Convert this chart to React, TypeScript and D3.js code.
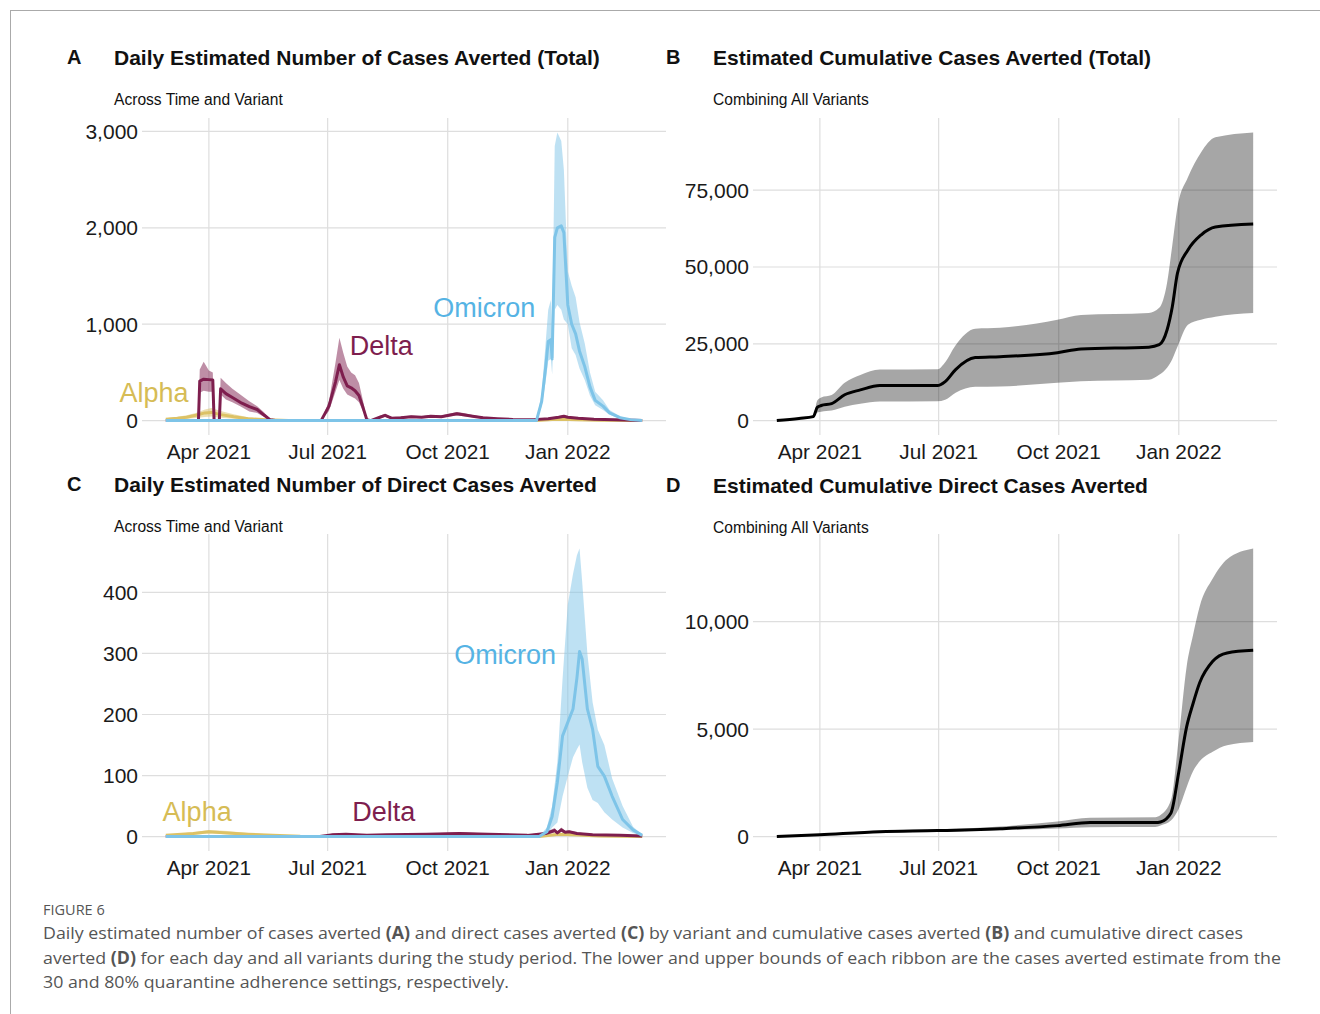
import * as d3 from "d3"

type Row = [string, number, number, number] // date, lower (30%), estimate, upper (80%)
type Label = [string, string, number] // text, date, value

const studyPeriod = ["2021-02-27", "2022-02-27"]
const xTicks = ["2021-04-01", "2021-07-01", "2021-10-01", "2022-01-01"]
const xTickLabels = ["Apr 2021", "Jul 2021", "Oct 2021", "Jan 2022"]

const yTicksA = [0, 1000, 2000, 3000]
const yTicksB = [0, 25000, 50000, 75000]
const yTicksC = [0, 100, 200, 300, 400]
const yTicksD = [0, 5000, 10000]

// Panel A: daily cases averted (total) by variant
const alphaTotal: Row[] = [
  ["2021-02-27", 8, 15, 25],
  ["2021-03-08", 12, 25, 40],
  ["2021-03-15", 18, 35, 55],
  ["2021-03-22", 28, 55, 80],
  ["2021-03-29", 38, 80, 115],
  ["2021-04-03", 42, 85, 130],
  ["2021-04-10", 30, 62, 100],
  ["2021-04-20", 18, 40, 65],
  ["2021-05-01", 8, 20, 35],
  ["2021-05-15", 3, 8, 15],
  ["2021-06-01", 0, 2, 5],
  ["2021-06-20", 0, 0, 0],
  ["2021-12-08", 0, 0, 0],
  ["2021-12-20", 5, 10, 18],
  ["2021-12-27", 8, 15, 25],
  ["2022-01-08", 5, 10, 16],
  ["2022-01-25", 1, 3, 6],
  ["2022-02-27", 0, 0, 0],
]

const deltaTotal: Row[] = [
  ["2021-02-27", 0, 0, 0],
  ["2021-03-24", 0, 0, 0],
  ["2021-03-25", 290, 410, 530],
  ["2021-03-28", 310, 430, 610],
  ["2021-04-01", 300, 425, 520],
  ["2021-04-04", 300, 420, 500],
  ["2021-04-05", 0, 0, 0],
  ["2021-04-09", 0, 0, 0],
  ["2021-04-10", 270, 330, 445],
  ["2021-04-14", 220, 280, 390],
  ["2021-04-19", 190, 240, 330],
  ["2021-04-25", 150, 190, 270],
  ["2021-05-02", 95, 145, 200],
  ["2021-05-08", 80, 115, 150],
  ["2021-05-13", 40, 60, 90],
  ["2021-05-18", 3, 8, 15],
  ["2021-05-22", 0, 0, 0],
  ["2021-06-26", 0, 0, 0],
  ["2021-07-02", 100, 150, 200],
  ["2021-07-07", 300, 400, 600],
  ["2021-07-10", 420, 580, 860],
  ["2021-07-13", 330, 450, 700],
  ["2021-07-16", 270, 360, 560],
  ["2021-07-19", 250, 340, 500],
  ["2021-07-22", 230, 310, 470],
  ["2021-07-25", 190, 260, 390],
  ["2021-07-28", 100, 140, 210],
  ["2021-07-31", 5, 10, 20],
  ["2021-08-03", 0, 0, 0],
  ["2021-08-10", 25, 35, 50],
  ["2021-08-14", 40, 55, 70],
  ["2021-08-19", 18, 25, 35],
  ["2021-08-26", 22, 30, 40],
  ["2021-09-03", 30, 40, 52],
  ["2021-09-11", 26, 35, 46],
  ["2021-09-18", 34, 45, 58],
  ["2021-09-26", 30, 40, 52],
  ["2021-10-02", 42, 55, 70],
  ["2021-10-08", 52, 70, 90],
  ["2021-10-13", 45, 60, 78],
  ["2021-10-20", 34, 45, 58],
  ["2021-10-28", 22, 30, 40],
  ["2021-11-08", 15, 20, 27],
  ["2021-11-20", 9, 12, 16],
  ["2021-12-06", 7, 10, 14],
  ["2021-12-17", 15, 20, 27],
  ["2021-12-25", 26, 35, 46],
  ["2021-12-29", 34, 45, 55],
  ["2022-01-01", 26, 35, 45],
  ["2022-01-09", 18, 25, 33],
  ["2022-01-21", 11, 15, 20],
  ["2022-02-06", 6, 8, 11],
  ["2022-02-27", 1, 2, 3],
]

const omicronTotal: Row[] = [
  ["2021-02-27", 0, 0, 0],
  ["2021-12-08", 0, 0, 0],
  ["2021-12-12", 150, 200, 280],
  ["2021-12-15", 400, 550, 800],
  ["2021-12-17", 620, 820, 1150],
  ["2021-12-19", 640, 840, 1250],
  ["2021-12-20", 480, 640, 900],
  ["2021-12-22", 1150, 1900, 2850],
  ["2021-12-24", 1200, 2000, 2990],
  ["2021-12-27", 1150, 2020, 2900],
  ["2021-12-29", 1050, 1950, 2600],
  ["2022-01-01", 1000, 1200, 1550],
  ["2022-01-04", 750, 1000, 1400],
  ["2022-01-07", 680, 900, 1280],
  ["2022-01-10", 540, 720, 1020],
  ["2022-01-14", 420, 560, 800],
  ["2022-01-18", 260, 350, 500],
  ["2022-01-22", 160, 210, 300],
  ["2022-01-28", 110, 150, 210],
  ["2022-02-02", 60, 80, 110],
  ["2022-02-10", 20, 30, 45],
  ["2022-02-18", 6, 10, 15],
  ["2022-02-27", 0, 0, 0],
]

// Panel C: daily direct cases averted by variant
const alphaDirect: Row[] = [
  ["2021-02-27", 1, 2, 3],
  ["2021-03-20", 3, 5, 7],
  ["2021-04-01", 5, 8, 11],
  ["2021-04-15", 4, 6, 9],
  ["2021-05-01", 2, 4, 6],
  ["2021-05-20", 1, 2, 3],
  ["2021-06-10", 0, 0.5, 1],
  ["2021-07-01", 0, 0, 0],
  ["2021-12-10", 0, 0, 0],
  ["2021-12-25", 2, 4, 6],
  ["2022-01-05", 2, 3, 5],
  ["2022-01-25", 0.5, 1, 2],
  ["2022-02-27", 0, 0, 0],
]

const deltaDirect: Row[] = [
  ["2021-02-27", 0, 0, 0],
  ["2021-06-25", 0, 0, 0],
  ["2021-07-05", 2, 3, 5],
  ["2021-07-15", 3, 4, 6],
  ["2021-07-31", 1, 2, 3],
  ["2021-08-15", 2, 3, 4],
  ["2021-09-15", 3, 4, 5],
  ["2021-10-10", 4, 5, 7],
  ["2021-11-01", 3, 4, 5],
  ["2021-12-01", 1, 2, 3],
  ["2021-12-15", 3, 5, 7],
  ["2021-12-22", 7, 10, 14],
  ["2021-12-24", 4, 6, 8],
  ["2021-12-27", 8, 11, 15],
  ["2021-12-30", 5, 7, 9],
  ["2022-01-02", 6, 8, 10],
  ["2022-01-08", 4, 5, 7],
  ["2022-01-20", 2, 3, 4],
  ["2022-02-10", 1, 2, 3],
  ["2022-02-27", 0.5, 1, 1.5],
]

const omicronDirect: Row[] = [
  ["2021-02-27", 0, 0, 0],
  ["2021-12-10", 0, 0, 0],
  ["2021-12-16", 3, 8, 15],
  ["2021-12-20", 15, 33, 50],
  ["2021-12-24", 23, 89, 122],
  ["2021-12-28", 66, 165, 258],
  ["2022-01-01", 99, 187, 380],
  ["2022-01-05", 130, 209, 430],
  ["2022-01-08", 143, 260, 461],
  ["2022-01-10", 151, 303, 472],
  ["2022-01-12", 122, 291, 418],
  ["2022-01-16", 80, 209, 300],
  ["2022-01-20", 60, 176, 220],
  ["2022-01-24", 55, 115, 175],
  ["2022-01-29", 40, 99, 150],
  ["2022-02-04", 28, 66, 95],
  ["2022-02-12", 15, 28, 50],
  ["2022-02-20", 6, 11, 16],
  ["2022-02-27", 1, 2, 3],
]

// Panel B: cumulative cases averted, all variants
const cumulativeTotal: Row[] = [
  ["2021-02-27", 0, 0, 0],
  ["2021-03-16", 500, 700, 900],
  ["2021-03-27", 1000, 1300, 1700],
  ["2021-03-30", 2600, 4300, 6500],
  ["2021-04-02", 2900, 4900, 7500],
  ["2021-04-10", 3300, 5500, 8300],
  ["2021-04-20", 4500, 8400, 12300],
  ["2021-05-02", 5500, 10000, 14800],
  ["2021-05-17", 6200, 11400, 16600],
  ["2021-06-30", 6300, 11400, 16700],
  ["2021-07-06", 6800, 12700, 19000],
  ["2021-07-14", 9100, 16600, 24500],
  ["2021-07-29", 11000, 20500, 29900],
  ["2021-08-17", 11100, 20800, 30200],
  ["2021-09-30", 12300, 22100, 32800],
  ["2021-10-18", 12800, 23300, 34400],
  ["2021-12-09", 13300, 23900, 35000],
  ["2021-12-17", 14900, 24700, 36700],
  ["2021-12-23", 17200, 29500, 44800],
  ["2021-12-27", 20000, 37000, 57000],
  ["2021-12-31", 24000, 48000, 69500],
  ["2022-01-08", 31200, 55500, 79200],
  ["2022-01-18", 32800, 60400, 87300],
  ["2022-01-29", 33800, 63000, 92200],
  ["2022-02-27", 35000, 64000, 93800],
]

// Panel D: cumulative direct cases averted, all variants
const cumulativeDirect: Row[] = [
  ["2021-02-27", 0, 0, 0],
  ["2021-04-01", 70, 90, 110],
  ["2021-05-17", 190, 230, 280],
  ["2021-06-30", 230, 280, 340],
  ["2021-08-17", 300, 370, 470],
  ["2021-09-30", 380, 510, 700],
  ["2021-10-25", 440, 650, 880],
  ["2021-12-14", 450, 650, 900],
  ["2021-12-18", 520, 680, 1000],
  ["2021-12-26", 750, 1100, 1700],
  ["2022-01-01", 1300, 3000, 4600],
  ["2022-01-07", 2300, 5100, 7900],
  ["2022-01-12", 3050, 6200, 9400],
  ["2022-01-17", 3500, 7150, 10700],
  ["2022-01-27", 3950, 8150, 12000],
  ["2022-02-07", 4250, 8540, 12900],
  ["2022-02-27", 4400, 8660, 13400],
]

const labelsTotal: Label[] = [
  ["Alpha", "2021-02-18", 290],
  ["Delta", "2021-08-11", 770],
  ["Omicron", "2021-10-29", 1163],
]
const labelsDirect: Label[] = [
  ["Alpha", "2021-03-23", 41],
  ["Delta", "2021-08-13", 41],
  ["Omicron", "2021-11-14", 298],
]

const variantColors: Record<string, string> = {
  Alpha: "#DCC266",
  Delta: "#7E1E4E",
  Omicron: "#7EC4E8",
}
const labelColors: Record<string, string> = {
  Alpha: "#D6BC55",
  Delta: "#7E1E4E",
  Omicron: "#55B3E4",
}

const parse = d3.timeParse("%Y-%m-%d")
const font = "'Liberation Sans', Arial, Helvetica, sans-serif"
const fmt = d3.format(",")

interface Series {
  name: string
  rows: Row[]
}

interface PanelProps {
  left: number
  right: number
  top: number
  bottom: number
  yTicks: number[]
  series: Series[]
  labels?: Label[]
  cumulative?: boolean
}

function Panel({ left, right, top, bottom, yTicks, series, labels = [], cumulative = false }: PanelProps) {
  const [d0, d1] = studyPeriod.map((s) => parse(s)!.getTime())
  const pad = (d1 - d0) * 0.05
  const x = d3.scaleTime().domain([new Date(d0 - pad), new Date(d1 + pad)]).range([left, right])

  const maxY = d3.max(series, (s) => d3.max(s.rows, (r) => r[3]))!
  const y = d3.scaleLinear().domain([-maxY * 0.05, maxY * 1.05]).range([bottom, top])

  const curve = cumulative ? d3.curveMonotoneX : d3.curveLinear
  const area = d3
    .area<Row>()
    .x((d) => x(parse(d[0])!))
    .y0((d) => y(d[1]))
    .y1((d) => y(d[3]))
    .curve(curve)
  const line = d3
    .line<Row>()
    .x((d) => x(parse(d[0])!))
    .y((d) => y(d[2]))
    .curve(curve)

  return (
    <g>
      {/* grid */}
      {yTicks.map((t) => (
        <line key={"h" + t} x1={left} x2={right} y1={y(t)} y2={y(t)} stroke="#dedede" strokeWidth={1.2} />
      ))}
      {xTicks.map((t) => (
        <line key={"v" + t} x1={x(parse(t)!)} x2={x(parse(t)!)} y1={top} y2={bottom} stroke="#dedede" strokeWidth={1.2} />
      ))}

      {/* ribbons */}
      {series.map((s) => (
        <path
          key={"r" + s.name}
          d={area(s.rows)!}
          fill={cumulative ? "#000" : variantColors[s.name]}
          fillOpacity={cumulative ? 0.35 : 0.5}
        />
      ))}
      {/* lines */}
      {series.map((s) => (
        <path
          key={"l" + s.name}
          d={line(s.rows)!}
          fill="none"
          stroke={cumulative ? "#000" : variantColors[s.name]}
          strokeWidth={3}
          strokeLinejoin="round"
        />
      ))}

      {/* variant labels */}
      {labels.map(([name, date, value]) => (
        <text
          key={"t" + name}
          x={x(parse(date)!)}
          y={y(value)}
          textAnchor="middle"
          dominantBaseline="central"
          fontSize={27}
          fill={labelColors[name]}
        >
          {name}
        </text>
      ))}

      {/* axis labels */}
      {yTicks.map((t) => (
        <text key={"yl" + t} x={left - 4} y={y(t)} textAnchor="end" dominantBaseline="central" fontSize={21} fill="#1a1a1a">
          {fmt(t)}
        </text>
      ))}
      {xTicks.map((t, i) => (
        <text key={"xl" + t} x={x(parse(t)!)} y={bottom + 24} textAnchor="middle" fontSize={20.8} fill="#1a1a1a">
          {xTickLabels[i]}
        </text>
      ))}
    </g>
  )
}

function Header({ x, y, letter, title, subtitle }: { x: number; y: number; letter: string; title: string; subtitle: string }) {
  return (
    <g>
      <text x={x} y={y} fontSize={20} fontWeight={700} fill="#111">
        {letter}
      </text>
      <text x={x + 47} y={y + 1} fontSize={21} fontWeight={700} fill="#111">
        {title}
      </text>
      <text x={x + 47} y={y + 41} fontSize={15.6} fill="#111">
        {subtitle}
      </text>
    </g>
  )
}

export default function App() {
  return (
    <svg
      width={1320}
      height={1014}
      style={{ position: "absolute", left: 0, top: 0, background: "#fff" }}
      fontFamily={font}
    >
      <rect width={1320} height={1014} fill="#fff" />
      <line x1={10} x2={1320} y1={10.5} y2={10.5} stroke="#aaa" strokeWidth={1} />
      <line x1={10.5} x2={10.5} y1={10} y2={1014} stroke="#aaa" strokeWidth={1} />

      <Header x={67} y={64} letter="A" title="Daily Estimated Number of Cases Averted (Total)" subtitle="Across Time and Variant" />
      <Header x={666} y={64} letter="B" title="Estimated Cumulative Cases Averted (Total)" subtitle="Combining All Variants" />
      <Header x={67} y={491} letter="C" title="Daily Estimated Number of Direct Cases Averted" subtitle="Across Time and Variant" />
      <Header x={666} y={492} letter="D" title="Estimated Cumulative Direct Cases Averted" subtitle="Combining All Variants" />

      <Panel
        left={142}
        right={666}
        top={118}
        bottom={435}
        yTicks={yTicksA}
        series={[
          { name: "Alpha", rows: alphaTotal },
          { name: "Delta", rows: deltaTotal },
          { name: "Omicron", rows: omicronTotal },
        ]}
        labels={labelsTotal}
      />
      <Panel
        left={753}
        right={1277}
        top={118}
        bottom={435}
        yTicks={yTicksB}
        series={[{ name: "All", rows: cumulativeTotal }]}
        cumulative
      />
      <Panel
        left={142}
        right={666}
        top={534}
        bottom={851}
        yTicks={yTicksC}
        series={[
          { name: "Alpha", rows: alphaDirect },
          { name: "Delta", rows: deltaDirect },
          { name: "Omicron", rows: omicronDirect },
        ]}
        labels={labelsDirect}
      />
      <Panel
        left={753}
        right={1277}
        top={534}
        bottom={851}
        yTicks={yTicksD}
        series={[{ name: "All", rows: cumulativeDirect }]}
        cumulative
      />

      {/* caption */}
      <g fontFamily="'Open Sans', 'Noto Sans', sans-serif" fill="#555">
        <text x={43} y={915} fontSize={14.5}>
          FIGURE 6
        </text>
        <text x={43} y={939} fontSize={17} textLength={1200} lengthAdjust="spacingAndGlyphs">
          Daily estimated number of cases averted <tspan fontWeight={700}>(A)</tspan> and direct cases averted{" "}
          <tspan fontWeight={700}>(C)</tspan> by variant and cumulative cases averted <tspan fontWeight={700}>(B)</tspan>{" "}
          and cumulative direct cases
        </text>
        <text x={43} y={964} fontSize={17} textLength={1238} lengthAdjust="spacingAndGlyphs">
          averted <tspan fontWeight={700}>(D)</tspan> for each day and all variants during the study period. The lower and
          upper bounds of each ribbon are the cases averted estimate from the
        </text>
        <text x={43} y={988} fontSize={17} textLength={466} lengthAdjust="spacingAndGlyphs">
          30 and 80% quarantine adherence settings, respectively.
        </text>
      </g>
    </svg>
  )
}
